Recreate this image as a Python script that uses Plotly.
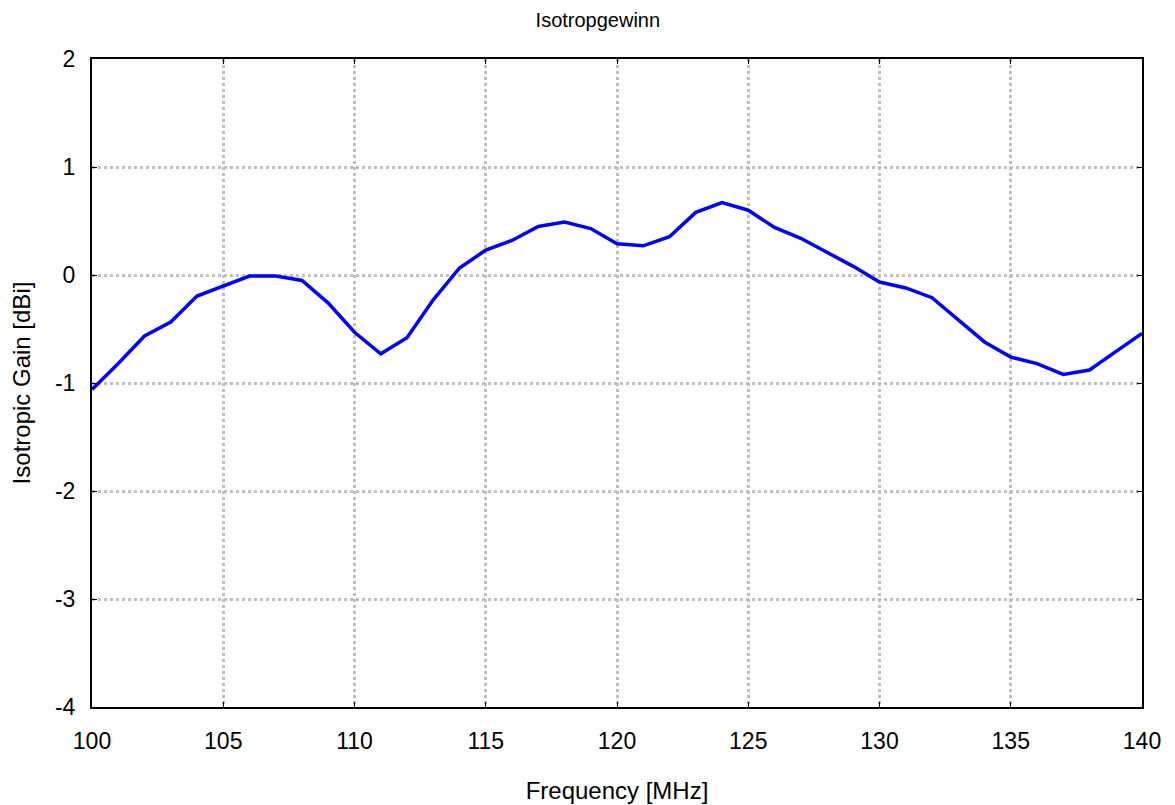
import plotly.graph_objects as go

freq_mhz = list(range(100, 141))
gain_dbi = [-1.06, -0.82, -0.565, -0.435, -0.195, -0.105, -0.01, -0.01, -0.05, -0.26,
            -0.53, -0.73, -0.58, -0.23, 0.065, 0.23, 0.32, 0.45, 0.49, 0.43,
            0.29, 0.27, 0.355, 0.58, 0.67, 0.60, 0.44, 0.34, 0.21, 0.08,
            -0.065, -0.12, -0.21, -0.42, -0.62, -0.76, -0.82, -0.92, -0.88, -0.71,
            -0.54]

x_ticks = [100, 105, 110, 115, 120, 125, 130, 135, 140]
y_ticks = [-4, -3, -2, -1, 0, 1, 2]

font_family = "Liberation Sans, Arial, sans-serif"

fig = go.Figure()
fig.add_trace(go.Scatter(x=freq_mhz, y=gain_dbi, mode="lines",
                         line=dict(color="#0000ff", width=3.5), showlegend=False))

axis_common = dict(
    showline=True, linecolor="black", linewidth=2, mirror="allticks",
    ticks="inside", ticklen=5, tickcolor="black", tickwidth=1,
    showgrid=True, gridcolor="#c0c0c0", gridwidth=2.5, griddash="dot",
    zeroline=False, automargin=False,
    tickfont=dict(size=23, color="black", family=font_family),
)

fig.update_xaxes(range=[100, 140], tickvals=x_ticks, ticktext=[str(v) for v in x_ticks],
                 title=dict(text="Frequency [MHz]", font=dict(size=24, color="black", family=font_family),
                            standoff=30),
                 ticklabelstandoff=12, **axis_common)
fig.update_yaxes(range=[-4, 2], tickvals=y_ticks, ticktext=[str(v) for v in y_ticks],
                 title=dict(text="Isotropic Gain [dBi]", font=dict(size=24, color="black", family=font_family),
                            standoff=18),
                 ticklabelstandoff=10, **axis_common)

fig.update_layout(
    width=1175, height=805,
    margin=dict(l=84, r=41, t=51, b=106),
    paper_bgcolor="white", plot_bgcolor="white",
    title=dict(text="Isotropgewinn", x=0.502, xanchor="center", y=0.985, yanchor="middle",
               font=dict(size=20, color="black", family=font_family)),
    font=dict(family=font_family, color="black"),
)

fig.write_html("out.html")
